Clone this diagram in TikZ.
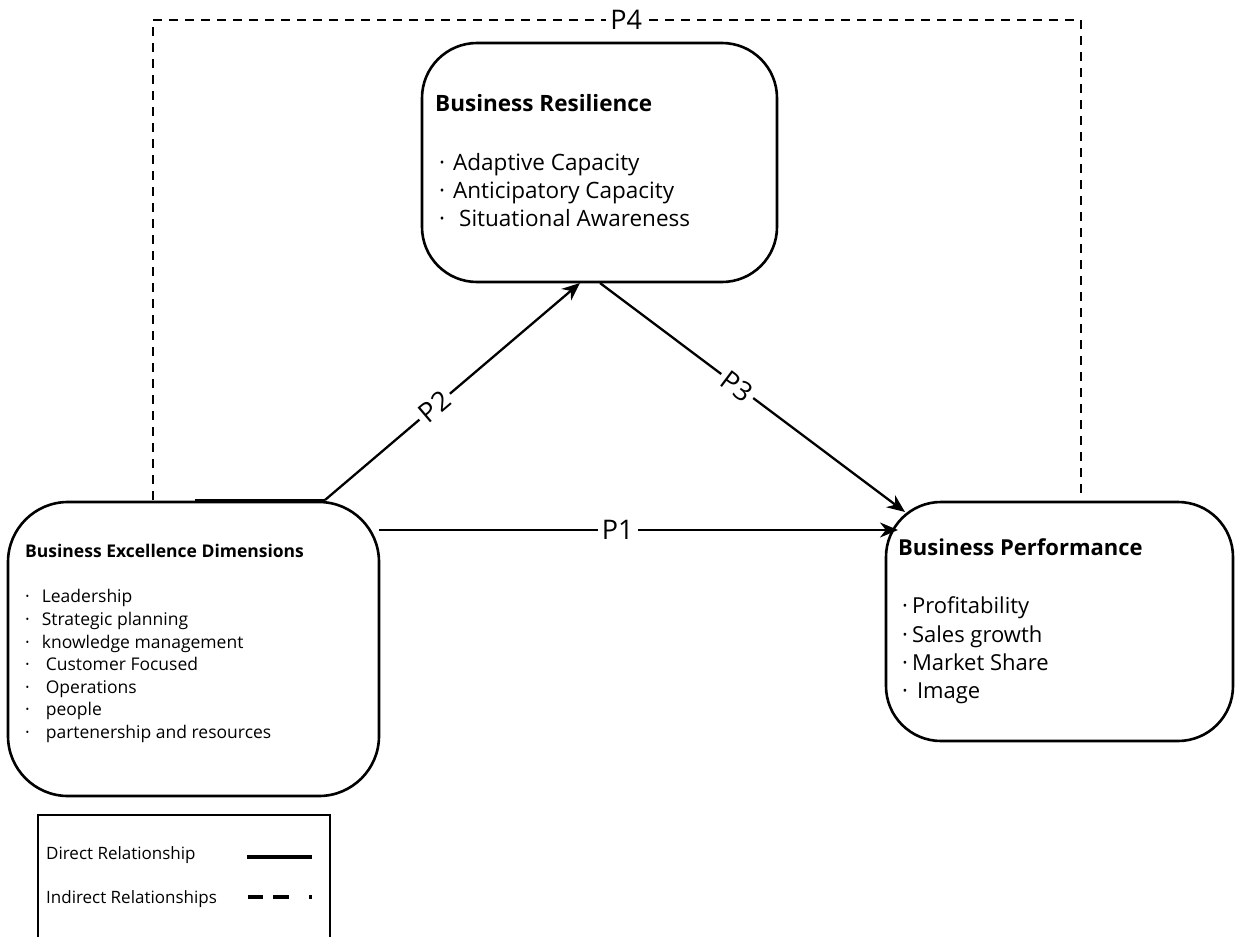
\documentclass[tikz,border=0pt]{standalone}
\usepackage{fontspec}
\setmainfont{Open Sans}
\usetikzlibrary{arrows.meta}
\tikzset{
  boxnode/.style={draw=black,line width=2.6pt,rounded corners=#1},
  txt/.style={anchor=base west,inner sep=0pt,font=\fontsize{#1}{#1}\selectfont},
  link/.style={line width=2.3pt,-{Stealth[length=18pt,width=15pt]}},
  plabel/.style={fill=white,inner sep=4pt,font=\fontsize{27}{27}\selectfont},
  dashline/.style={line width=2.3pt,dash pattern=on 9pt off 7pt},
}
\begin{document}
\begin{tikzpicture}[x=1pt,y=-1pt]
\useasboundingbox (0,0) rectangle (1235,937);
\fill[white] (0,0) rectangle (1235,937);

% boxes
\draw[boxnode=55pt] (422,43) rectangle (777,282);
\draw[boxnode=60pt] (8,502) rectangle (379,796);
\draw[boxnode=55pt] (886,502) rectangle (1233,741);

% texts: resilience
\node[txt=22.5] (rt) at (435,111) {\textbf{Business Resilience}};
\node[txt=22.5] (r1) at (439,170) {·\hspace{8pt}Adaptive Capacity};
\node[txt=22.5] (r2) at (439,198) {·\hspace{8pt}Anticipatory Capacity};
\node[txt=22.5] (r3) at (439,226) {·\hspace{14pt}Situational Awareness};

% texts: excellence
\node[txt=17.5] (et) at (25,557) {\textbf{Business Excellence Dimensions}};
\node[txt=17.5] (e1) at (25,602) {·\hspace{12pt}Leadership};
\node[txt=17.5] (e2) at (25,625) {·\hspace{12pt}Strategic planning};
\node[txt=17.5] (e3) at (25,648) {·\hspace{12pt}knowledge management};
\node[txt=17.5] (e4) at (25,670) {·\hspace{16pt}Customer Focused};
\node[txt=17.5] (e5) at (25,693) {·\hspace{16pt}Operations};
\node[txt=17.5] (e6) at (25,715) {·\hspace{16pt}people};
\node[txt=17.5] (e7) at (25,738) {·\hspace{16pt}partenership and resources};

% texts: performance
\node[txt=22] (pt) at (898,555) {\textbf{Business Performance}};
\node[txt=22] (p1) at (902,613) {·\hspace{4pt}Profitability};
\node[txt=22] (p2) at (902,642) {·\hspace{4pt}Sales growth};
\node[txt=22] (p3) at (902,670) {·\hspace{4pt}Market Share};
\node[txt=22] (p4) at (902,698) {·\hspace{9pt}Image};

% connectors
\coordinate (p2s) at (325,500);
\coordinate (p2e) at (580,283);
\coordinate (p3s) at (600,283);
\coordinate (p3e) at (905,512);
\coordinate (p1s) at (379,530);
\coordinate (p1e) at (898,530);
\coordinate (tops) at (195,500);
\draw[line width=2.8pt] (tops) -- (p2s);
\draw[link] (p2s) -- node[plabel,sloped,pos=0.43] {P2} (p2e);
\draw[link] (p3s) -- node[plabel,sloped,pos=0.45] {P3} (p3e);
\draw[link] (p1s) -- node[plabel,pos=0.46] {P1} (p1e);

% dashed P4
\coordinate (d1) at (153,500);
\coordinate (d2) at (153,20);
\coordinate (d3) at (1081,20);
\coordinate (d4) at (1081,495);
\draw[dashline] (d1) -- (d2) -- node[plabel,pos=0.51] {P4} (d3) -- (d4);

% legend
\draw[line width=2.3pt] (38,937) -- (38,815) -- (330,815) -- (330,937);
\node[txt=17] (l1) at (46,859) {Direct Relationship};
\node[txt=17] (l2) at (46,903) {Indirect Relationships};
\coordinate (ls1) at (247,857);
\coordinate (ls2) at (312,857);
\coordinate (ld1) at (248,897);
\coordinate (ld2) at (312,897);
\draw[line width=3.2pt] (ls1) -- (ls2);
\draw[line width=3.2pt,dash pattern=on 15pt off 10pt on 16pt off 20pt on 3pt off 5pt] (ld1) -- (ld2);
\end{tikzpicture}
\end{document}
